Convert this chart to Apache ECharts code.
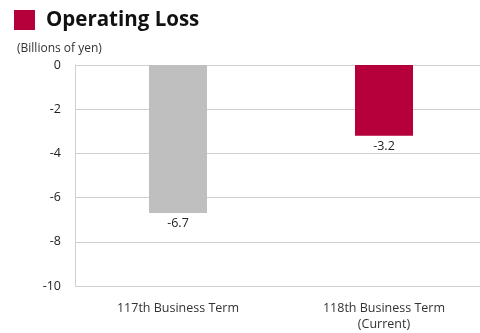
<!DOCTYPE html>
<html>
<head>
<meta charset="utf-8">
<script src="https://cdn.jsdelivr.net/npm/echarts@6/dist/echarts.min.js"></script>
<style>
  html, body { margin: 0; padding: 0; background: #fff; }
  #chart { width: 480px; height: 333px; }
</style>
</head>
<body>
<div id="chart"></div>
<script>
// 営業損失チャート
const categories = ['117th Business Term', '118th Business Term\n(Current)'];
const lossValues = [-6.7, -3.2];
const barColors = ['#bfbfbf', '#b5003b'];

const chartDom = document.getElementById('chart');
let chart = echarts.init(chartDom);

let option = {
    animation: false,
    textStyle: { fontFamily: 'Open Sans' },
    graphic: [
        {
            type: 'rect',
            shape: { x: 14, y: 10, width: 21, height: 20 },
            style: { fill: '#b5003b' }
        }
    ],
    title: [
        {
            text: 'Operating Loss',
            left: 41,
            top: 5,
            textStyle: { fontSize: 20.5, fontWeight: 'bold', color: '#111', fontFamily: 'Open Sans' }
        },
        {
            text: '(Billions of yen)',
            left: 12,
            top: 38,
            textStyle: { fontSize: 12, fontWeight: 'normal', color: '#333', fontFamily: 'Open Sans' }
        }
    ],
    grid: {
        left: 75,
        width: 412,
        top: 65,
        bottom: 47,
        outerBoundsMode: 'none'
    },
    xAxis: {
        type: 'category',
        data: categories,
        position: 'bottom',
        axisLine: { show: false },
        axisTick: { show: false },
        axisLabel: {
            color: '#333',
            fontSize: 12.5,
            margin: 14,
            lineHeight: 16
        }
    },
    yAxis: {
        type: 'value',
        min: -10,
        max: 0,
        interval: 2,
        axisLine: { show: true, lineStyle: { color: '#d0d0d0', width: 1 } },
        axisTick: { show: false },
        splitLine: { lineStyle: { color: '#d0d0d0', width: 1 } },
        axisLabel: {
            color: '#222',
            fontSize: 12.5,
            margin: 14
        }
    },
    series: [
        {
            type: 'bar',
            barWidth: 58,
            data: lossValues.map((v, i) => ({ value: v, itemStyle: { color: barColors[i] } })),
            label: {
                show: true,
                position: 'bottom',
                distance: 4,
                color: '#222',
                fontSize: 12.5,
                formatter: p => p.value.toFixed(1)
            }
        }
    ]
};

option && chart.setOption(option);
</script>
</body>
</html>
